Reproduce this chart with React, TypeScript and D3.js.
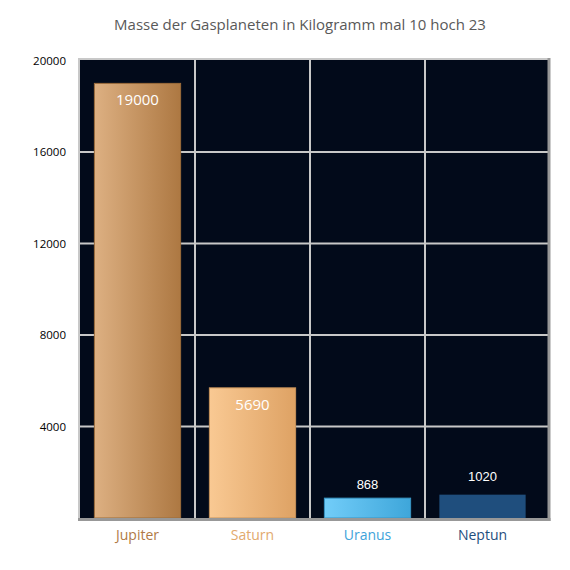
import React from "react";
import * as d3 from "d3";

const categories = ["Jupiter", "Saturn", "Uranus", "Neptun"];
const values = [19000, 5690, 868, 1020];
const yTicks = [4000, 8000, 12000, 16000, 20000];
const title = "Masse der Gasplaneten in Kilogramm mal 10 hoch 23";

const barFills = [
  ["#ddb082", "#ad7842"],
  ["#f9c993", "#dea264"],
  ["#72cdf9", "#3ea6da"],
  ["#1f4e7d", "#1f4e7d"],
];
const labelColors = ["#b07a45", "#e2a96d", "#3ea3da", "#1f4e7d"];
const valueInside = [true, true, false, false];

export default function App() {
  const W = 570, H = 570;
  const left = 80, right = 549, top = 60, bottom = 519;
  const x = d3.scaleBand<string>().domain(categories).range([left, 540]).paddingInner(0.25).paddingOuter(0.125);
  const xGrid = d3.scaleBand<string>().domain(categories).range([left, 540]);
  const y = d3.scaleLinear().domain([0, 20000]).range([518, 60.5]);
  const font = "'Open Sans', 'Noto Sans', sans-serif";

  return (
    <svg width={W} height={H} style={{ position: "absolute", left: 0, top: 0, background: "#fff" }}>
      <defs>
        {barFills.map((c, i) => (
          <linearGradient key={i} id={`g${i}`} x1="0" x2="1" y1="0" y2="0">
            <stop offset="0" stopColor={c[0]} />
            <stop offset="1" stopColor={c[1]} />
          </linearGradient>
        ))}
      </defs>
      <text x={W / 2 + 15} y={30} textAnchor="middle" fontFamily={font} fontSize={15} fill="#595959">
        {title}
      </text>
      <rect x={left} y={top} width={right - left} height={bottom - top} fill="#020a1a" />
      {yTicks.slice(0, -1).map((t) => (
        <line key={t} x1={left} x2={right} y1={y(t)} y2={y(t)} stroke="#c8c8c8" strokeWidth={2} />
      ))}
      {categories.slice(1).map((c) => (
        <line key={c} x1={xGrid(c)!} x2={xGrid(c)!} y1={top} y2={bottom} stroke="#c8c8c8" strokeWidth={2} />
      ))}
      {categories.map((c, i) => (
        <rect
          key={c}
          x={x(c)!}
          y={y(values[i])}
          width={x.bandwidth()}
          height={y(0) - y(values[i])}
          fill={`url(#g${i})`}
          stroke={i < 3 ? d3.color(barFills[i][1])!.darker(0.3).toString() : "none"}
          strokeWidth={1}
        />
      ))}
      {categories.map((c, i) => (
        <text
          key={c}
          x={x(c)! + x.bandwidth() / 2}
          y={valueInside[i] ? y(values[i]) + 22 : y(values[i]) - (i === 3 ? 14 : 9)}
          textAnchor="middle"
          fontFamily={valueInside[i] ? font : "'Liberation Sans', Arial, sans-serif"}
          fontSize={valueInside[i] ? 15 : 13}
          fill="#ffffff"
        >
          {values[i]}
        </text>
      ))}
      <line x1={left - 1} x2={right} y1={top - 1} y2={top - 1} stroke="#c8c8c8" strokeWidth={2} />
      <line x1={left - 1} x2={left - 1} y1={top - 2} y2={bottom} stroke="#c8c8c8" strokeWidth={2} />
      <line x1={right} x2={right} y1={top - 2} y2={bottom + 2} stroke="#989898" strokeWidth={3} />
      <line x1={left - 2} x2={right + 1.5} y1={bottom + 0.5} y2={bottom + 0.5} stroke="#989898" strokeWidth={3} />
      {yTicks.map((t) => (
        <text key={t} x={66} y={y(t) + 4} textAnchor="end" fontFamily={font} fontSize={11.5} fill="#000">
          {t}
        </text>
      ))}
      {categories.map((c, i) => (
        <text
          key={c}
          x={x(c)! + x.bandwidth() / 2}
          y={540}
          textAnchor="middle"
          fontFamily={font}
          fontSize={14}
          fill={labelColors[i]}
        >
          {c}
        </text>
      ))}
    </svg>
  );
}
